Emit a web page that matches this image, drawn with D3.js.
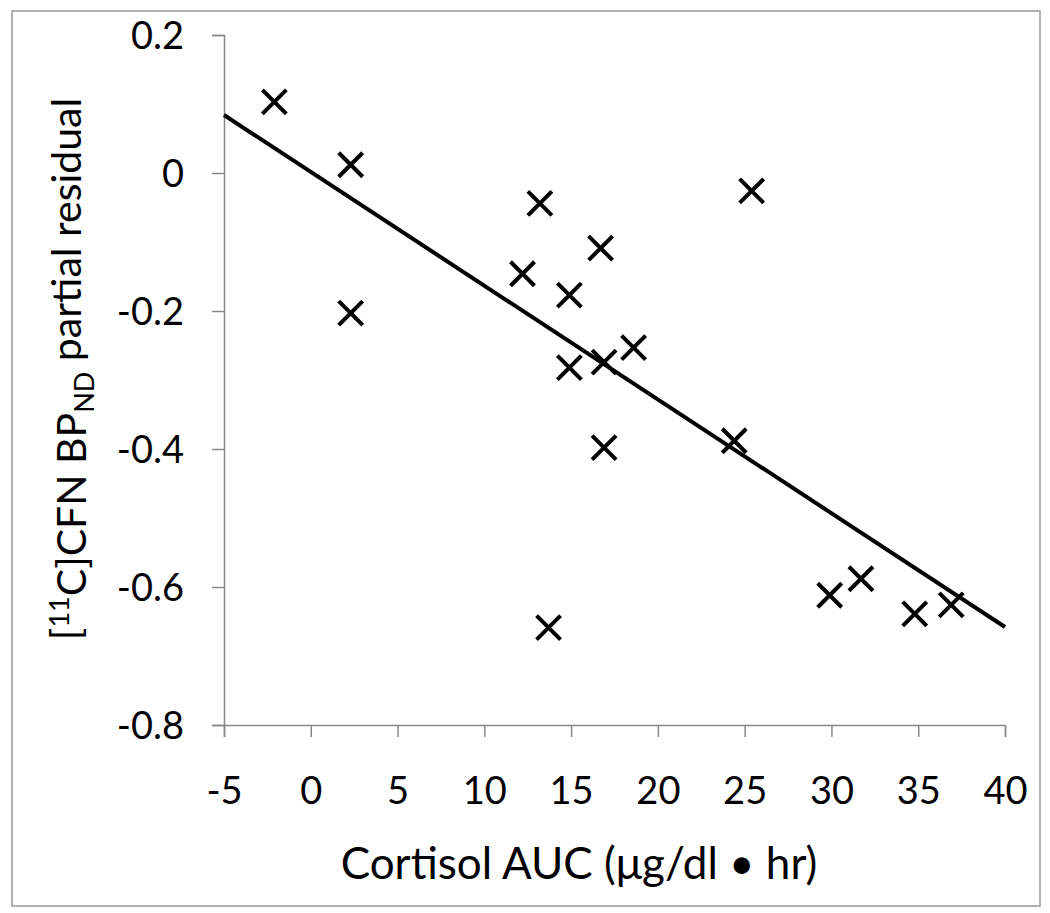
<!DOCTYPE html>
<html>
<head>
<meta charset="utf-8">
<script src="https://cdn.jsdelivr.net/npm/d3@7"></script>
<style>
  html, body { margin: 0; padding: 0; background: #fff; }
  svg { display: block; }
  text { font-family: Lato, "Open Sans", sans-serif; fill: #000; }
</style>
</head>
<body>
<svg id="chart" width="1050" height="913"></svg>
<script>
// Data
const cortisolAUC = [-2.1, 2.3, 2.3, 12.2, 13.2, 13.7, 14.9, 14.9, 16.7, 16.9, 16.9, 18.6, 24.4, 25.4, 29.9, 31.7, 34.8, 36.9];
const bpResidual  = [0.103, 0.012, -0.203, -0.146, -0.044, -0.659, -0.177, -0.282, -0.109, -0.274, -0.398, -0.253, -0.388, -0.026, -0.612, -0.588, -0.639, -0.626];
const trendX = [-5, 40];
const trendY = [0.084, -0.658];
const xTicks = [-5, 0, 5, 10, 15, 20, 25, 30, 35, 40];
const yTicks = [0.2, 0, -0.2, -0.4, -0.6, -0.8];
const xTitle = "Cortisol AUC (\u03bcg/dl \u2022 hr)";

const svg = d3.select("#chart");

// outer frame
svg.append("rect")
  .attr("x", 12).attr("y", 11).attr("width", 1028).attr("height", 895)
  .attr("fill", "#fff").attr("stroke", "#999").attr("stroke-width", 1.5);

const x = d3.scaleLinear().domain([-5, 40]).range([224, 1005]);
const y = d3.scaleLinear().domain([-0.8, 0.2]).range([725, 35]);

const axisColor = "#888";
const hyphen = s => s.replace("\u2212", "-");

// Y axis
const yAxis = svg.append("g").attr("transform", "translate(224,0)")
  .call(d3.axisLeft(y).tickValues(yTicks).tickSize(12).tickPadding(28)
    .tickFormat(d => d === 0 ? "0" : hyphen(d3.format(".1f")(d))));
yAxis.select(".domain").attr("stroke", axisColor).attr("stroke-width", 1.5);
yAxis.selectAll(".tick line").attr("stroke", axisColor).attr("stroke-width", 1.5);
yAxis.selectAll(".tick text").style("font-size", "38px").attr("dy", "0.35em");

// X axis
const xAxis = svg.append("g").attr("transform", "translate(0,725)")
  .call(d3.axisBottom(x).tickValues(xTicks).tickSize(12).tickPadding(40)
    .tickFormat(d => hyphen(d3.format("d")(d))));
xAxis.select(".domain").attr("stroke", axisColor).attr("stroke-width", 1.5);
xAxis.selectAll(".tick line").attr("stroke", axisColor).attr("stroke-width", 1.5);
xAxis.selectAll(".tick text").style("font-size", "38px").attr("dy", "0.71em");

// trend line
svg.append("line")
  .attr("x1", x(trendX[0])).attr("y1", y(trendY[0]))
  .attr("x2", x(trendX[1])).attr("y2", y(trendY[1]))
  .attr("stroke", "#000").attr("stroke-width", 4);

// X markers
const pts = cortisolAUC.map((v, i) => [v, bpResidual[i]]);
const m = 12;
svg.append("g").selectAll("path").data(pts).join("path")
  .attr("transform", d => `translate(${x(d[0])},${y(d[1])})`)
  .attr("d", `M${-m},${-m}L${m},${m}M${-m},${m}L${m},${-m}`)
  .attr("stroke", "#000").attr("stroke-width", 4).attr("fill", "none");

// X title
svg.append("text")
  .attr("x", 579).attr("y", 879)
  .attr("text-anchor", "middle")
  .style("font-size", "44px")
  .text(xTitle);

// Y title
const yt = svg.append("text")
  .attr("transform", "translate(80,369) rotate(-90)")
  .attr("text-anchor", "middle")
  .style("font-size", "41px");
yt.append("tspan").text("[");
yt.append("tspan").attr("dy", "-0.4em").style("font-size", "27px").text("11");
yt.append("tspan").attr("dy", "0.4em").text("C]CFN BP");
yt.append("tspan").attr("dy", "0.3em").style("font-size", "27px").text("ND");
yt.append("tspan").attr("dy", "-0.3em").text(" partial residual");
</script>
</body>
</html>
